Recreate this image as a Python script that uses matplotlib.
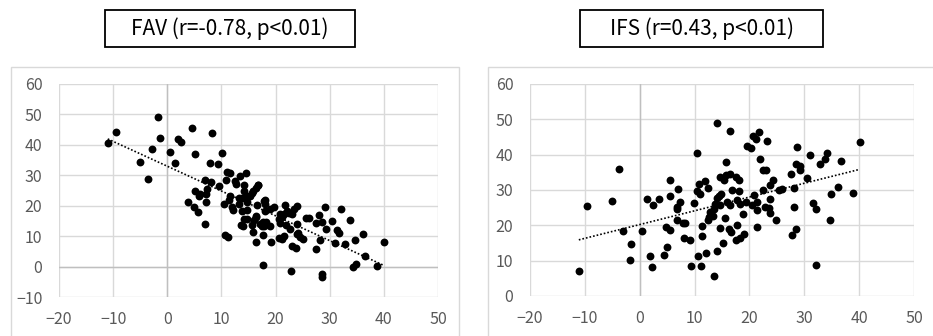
import numpy as np
import matplotlib
matplotlib.use("Agg")
import matplotlib.pyplot as plt
from matplotlib.patches import Rectangle

plt.rcParams['font.family'] = ['Noto Sans CJK JP', 'DejaVu Sans']

# FAV panel (x, y)
fav_x = [-11, -9.4, -1.7, -1.4, -2.9, -5, -3.6, 0.5, 1.4, 2, 2.6, 4.6, 5.1, 8.3, 7.9, 9.4, 10.1,
         3.8, 5.1, 4.9, 5.7, 5.8, 6.0, 7.0, 7.1, 7.4, 8.1, 7.1, 7.0, 9.6, 10.5, 11.1, 11.6, 10.9,
         10.6, 11.2, 11.4, 11.5, 12, 12.2, 12.5, 12.7, 13.2, 13.5, 13.3, 13.6,
         14.6, 14.2, 14.1, 16.7, 16.3, 15.8, 15.7, 13.8, 14.7, 13.8, 14.7, 14.1, 14.7, 16, 16.3,
         15.7, 15.8, 16.5, 18.1, 18.1, 19, 19.7, 18.1, 17.2, 17.7, 18.2, 19, 17.5, 17.6, 16.3,
         19.2, 17.6, 21.8, 20.9, 21.2, 21.5, 22.4, 23, 23.4, 23.9, 20.6, 20.9, 22, 22.7, 23.9,
         20.6, 21.2, 21.5, 24.2, 23, 23.8, 24.6, 25.1, 22.9, 26.2, 28, 27.5, 28.5, 29.2, 29.4,
         30.5, 28.2, 27.5, 28.6, 28.6, 31, 31.3, 31.8, 32.1, 32.9, 33.7, 34.6, 36.2, 36.6, 34.3,
         34.9, 38.7, 40.1,
         16.8, 15.2, 14.8, 16.4, 17.9, 22.1, 25.7, 17.9, 14, 24]
fav_y = [40.5, 44.2, 49, 42.4, 38.8, 34.5, 28.8, 37.5, 34.2, 42, 40.8, 45.5, 37, 44, 34.2, 33.6, 37.3,
         21.3, 25, 19.6, 17.8, 23.2, 24, 28.4, 24, 25.5, 27.7, 21.1, 14.1, 26.4, 20.4, 31.2, 30.8, 28.4,
         10.5, 9.7, 21.8, 23.1, 19.6, 18.5, 28.1, 27, 22.6, 29.9, 20.7, 13.6,
         30.9, 26.8, 25, 26.8, 25.8, 25, 24.2, 22.6, 23.1, 18.2, 18.5, 15.7, 15.6, 15.2, 16.5,
         13.5, 11.3, 20.3, 22, 20.4, 19, 19.6, 18.2, 14.1, 14.5, 14.7, 13.2, 13.2, 10.3, 8,
         8, 0.5, 20.3, 17.4, 16.3, 17.4, 17.6, 17.4, 19, 19.9, 15.6, 14.3, 13.5, 12.4, 14.1,
         9.3, 9.1, 10.2, 11, 6.6, 6.2, 9.7, 9.2, -1.3, 16, 17, 14.3, 14.7, 19.5, 12.4,
         15.1, 8.8, 5.8, -2.4, -3.5, 7.9, 12.1, 11, 18.8, 7.3, 15.4, 8.7, 10.7, 3.6, 0,
         0.9, 0.2, 8,
         26.9, 23.1, 21.1, 16.2, 21.6, 18.4, 15.9, 13.4, 13.4, 10.7]

# IFS panel (x, y)
ifs_x = [-11.1, -9.6, -5.1, -3.8, -3.0, -1.6, -1.7, 0.4, 1.3, 2.5, 3.6, 1.9, 2.3, 4.4, 4.9, 4.8,
         5.6, 5.6, 5.6, 6.9, 7.3, 6.8, 6.8, 6.8, 7.8, 8.2, 8.0, 9.1, 9.4, 10.4, 9.9, 10.4, 10.9,
         10.8, 11.9, 12.5, 11.3, 11.3, 10.7, 11.2, 12.0, 12.4, 12.7,
         14.1, 16.4, 20.7, 21.2, 21.7, 19.6, 20.3, 23.2, 21.9, 22.5, 23, 15.8, 14.7, 15.3, 15.8,
         16.4, 17.5, 18.1, 16.8, 18.1, 22.5, 23.8, 24.3, 25.3, 25.9, 14, 14.4, 14.9, 13.8, 14.7,
         15.9, 16.4, 17.8, 18.3, 19.3, 20.4, 20.8, 21.4, 21.4, 22.9, 23.5, 23.8, 23.8, 24.8,
         12.9, 13.4, 13.6, 15.6, 18.9, 14.6, 16.2, 16.7, 17.8, 17.6, 18.2, 19.1, 21.4, 15.1,
         14.1, 13.6, 27.6, 28.7, 28.5, 29.3, 29.3, 30.5, 28.2, 28.2, 27.7, 28.5, 31.1, 31.6,
         32.1, 32.2, 32.9, 33.7, 34.2, 36.7, 36.2, 34.9, 34.6, 38.8, 40.1]
ifs_y = [7.2, 25.5, 27, 36, 18.5, 14.6, 10.2, 18.5, 27.4, 25.8, 27.5, 11.2, 8.3, 11.7, 13.8, 19.5,
         18.7, 32.9, 28.2, 30.3, 26.5, 25.3, 24.6, 21.6, 20.6, 20.6, 16.5, 15.9, 8.5, 40.6, 26.3, 29.8, 28.8,
         31.8, 32.6, 30.5, 19.7, 17, 11.4, 8.6, 12.1, 21.6, 22.3,
         49, 46.7, 45.3, 44.4, 46.3, 42.5, 41.9, 43.8, 38.8, 35.7, 35.7, 37.9, 33.6, 32.9, 34.2,
         34.4, 33.8, 32.9, 30, 29.8, 30, 31.5, 32.9, 30, 30.2, 27.6, 28.2, 28.8, 26.1, 25.7,
         26.5, 25.8, 27.2, 26.1, 26.5, 25.8, 28.6, 26.7, 24.4, 25.3, 25, 27.4, 23.6, 21.5,
         23.9, 22.7, 24.6, 22.1, 23.3, 19.2, 18.9, 18.2, 20, 15.9, 16.3, 17.6, 19.6, 14.9,
         12.8, 5.8, 34.6, 42.3, 37.3, 36.7, 35.7, 33.5, 30.5, 25.1, 17.4, 18.9, 40, 26.2,
         24.5, 8.9, 37.4, 38.8, 40.6, 38.2, 30.9, 28.9, 21.4, 29.1, 43.7]

panels = [
    dict(name="FAV (r=-0.78, p<0.01)", x=fav_x, y=fav_y, ylim=(-10, 60),
         rect=[59/933, 1-297/336, 379/933, 213/336],
         frame=(11, 67, 459), title_box=(105, 10, 355, 47)),
    dict(name="IFS (r=0.43, p<0.01)", x=ifs_x, y=ifs_y, ylim=(0, 60),
         rect=[530/933, 1-296/336, 384/933, 212/336],
         frame=(488, 67, 940), title_box=(580, 10, 823, 47)),
]

W, H = 933, 336
fig = plt.figure(figsize=(W/100, H/100), dpi=100)
grid_c = '#d9d9d9'

for p in panels:
    # chart-area frame
    fx0, fy0, fx1 = p['frame']
    fig.patches.append(Rectangle((fx0/W, -0.05), (fx1-fx0)/W, 1.05-fy0/H,
                                 transform=fig.transFigure, fill=False,
                                 edgecolor=grid_c, lw=1.0))
    # title box
    bx0, by0, bx1, by1 = p['title_box']
    fig.patches.append(Rectangle((bx0/W, 1-by1/H), (bx1-bx0)/W, (by1-by0)/H,
                                 transform=fig.transFigure, fill=False,
                                 edgecolor='black', lw=1.3))
    fig.text((bx0+bx1)/2/W, 1-(by0+by1)/2/H, p['name'], ha='center', va='center',
             fontsize=15, color='black')

    ax = fig.add_axes(p['rect'])
    x = np.array(p['x'])
    y = np.array(p['y'])
    ax.set_xlim(-20, 50)
    ax.set_ylim(*p['ylim'])
    ax.set_xticks(np.arange(-20, 51, 10))
    ax.set_yticks(np.arange(p['ylim'][0], 61, 10))
    ax.grid(True, color=grid_c, lw=1.0)
    ax.set_axisbelow(True)
    for s in ax.spines.values():
        s.set_visible(False)
    ax.axvline(0, color='#bfbfbf', lw=1.0, zorder=1)
    if p['ylim'][0] < 0:
        ax.axhline(0, color='#bfbfbf', lw=1.0, zorder=1)
    ax.tick_params(length=0, labelsize=11.5, labelcolor='#595959')
    ax.tick_params(axis='x', pad=10)
    ax.tick_params(axis='y', pad=12)

    ax.scatter(x, y, s=32, color='black', zorder=3, linewidths=0)
    k, b = np.polyfit(x, y, 1)
    xs = np.array([x.min(), x.max()])
    ax.plot(xs, k*xs + b, color='black', ls=(0, (1, 1.2)), lw=1.2, zorder=2)

fig.savefig('out.png', dpi=100)
